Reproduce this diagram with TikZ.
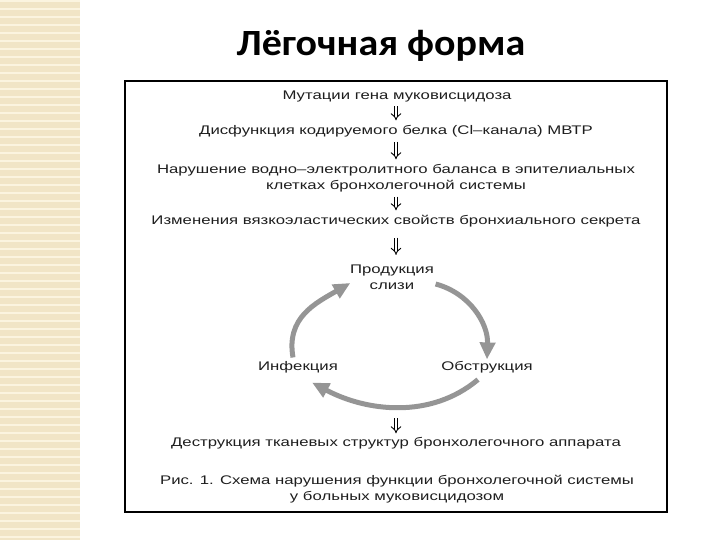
\documentclass[tikz,border=0pt]{standalone}
\usepackage{fontspec}
\usepackage{tikz}
\usetikzlibrary{arrows.meta,calc}
\newfontfamily\titlefont[FakeStretch=1.08]{Carlito}
\newfontfamily\figfont[FakeStretch=1.34]{Liberation Sans}
\definecolor{stripbg}{HTML}{F1E5C6}
\definecolor{stripln}{HTML}{FBF4DF}
\definecolor{figtext}{HTML}{1E1E1E}
\definecolor{cycgray}{HTML}{959595}
\tikzset{
  txt/.style={font=\figfont\fontsize{12.5}{16}\selectfont,text=figtext,
              align=center,inner sep=1.5pt},
  dbl/.style={double,double distance=2.8pt,line width=0.9pt,
              -{Implies},shorten <=3pt,shorten >=3pt},
  cyc/.style={draw=cycgray,line width=5pt,
              -{Triangle[length=17pt,width=15pt]}},
}
\begin{document}
\begin{tikzpicture}[x=1pt, y=-1pt]
  \useasboundingbox (0,0) rectangle (720,540);
  % decorative strip on the left
  \fill[stripbg] (0,0) rectangle (80,540);
  \foreach \y in {0,8,...,536}
    \fill[stripln] (0,\y) rectangle (80,\y+2);
  % heading
  \node[font=\titlefont\bfseries\fontsize{37}{40}\selectfont] (ttl) at (381,46)
    {Лёгочная форма};
  % frame of the figure
  \draw[line width=1.3pt] (125,81) rectangle (667,512);
  % chain of causes
  \node[txt] (mut) at (397,96) {Мутации гена муковисцидоза};
  \node[txt] (dys) at (396,131) {Дисфункция кодируемого белка (Cl–канала) МВТР};
  \node[txt] (bal) at (396,178)
    {Нарушение водно–электролитного баланса в эпителиальных\\
     клетках бронхолегочной системы};
  \node[txt] (vis) at (396,221)
    {Изменения вязкоэластических свойств бронхиального секрета};
  \node[txt] (prod) at (392,277) {Продукция\\слизи};
  \node[txt] (inf) at (298,367) {Инфекция};
  \node[txt] (obs) at (487,367) {Обструкция};
  \coordinate (loop) at (396,418);
  \node[txt] (dest) at (396,443)
    {Деструкция тканевых структур бронхолегочного аппарата};
  \node[txt] (cap) at (397,489)
    {Рис. 1. Схема нарушения функции бронхолегочной системы\\
     у больных муковисцидозом};
  % double arrows
  \draw[dbl] (dys.north |- mut.south) -- (dys.north);
  \draw[dbl] (bal.north |- dys.south) -- (bal.north);
  \draw[dbl] (vis.north |- bal.south) -- (vis.north);
  \draw[dbl,shorten <=9pt,shorten >=8pt] (vis.south) -- (vis.south |- prod.north);
  \draw[dbl,shorten <=0pt,shorten >=2pt] (loop) -- (loop |- dest.north);
  % vicious circle (y axis points down, so shifts are negated)
  \draw[cyc] ([xshift=-5pt,yshift=2pt]inf.north) to[out=100,in=210,looseness=1.1]
    ([xshift=2pt,yshift=-6pt]prod.west);
  \draw[cyc] ([yshift=-7pt]prod.east) to[out=-15,in=88] (obs.north);
  \draw[cyc] ([xshift=-9pt,yshift=-5pt]obs.south) to[out=-140,in=-28,looseness=0.95]
    ([xshift=14pt,yshift=-8pt]inf.south);
\end{tikzpicture}
\end{document}
